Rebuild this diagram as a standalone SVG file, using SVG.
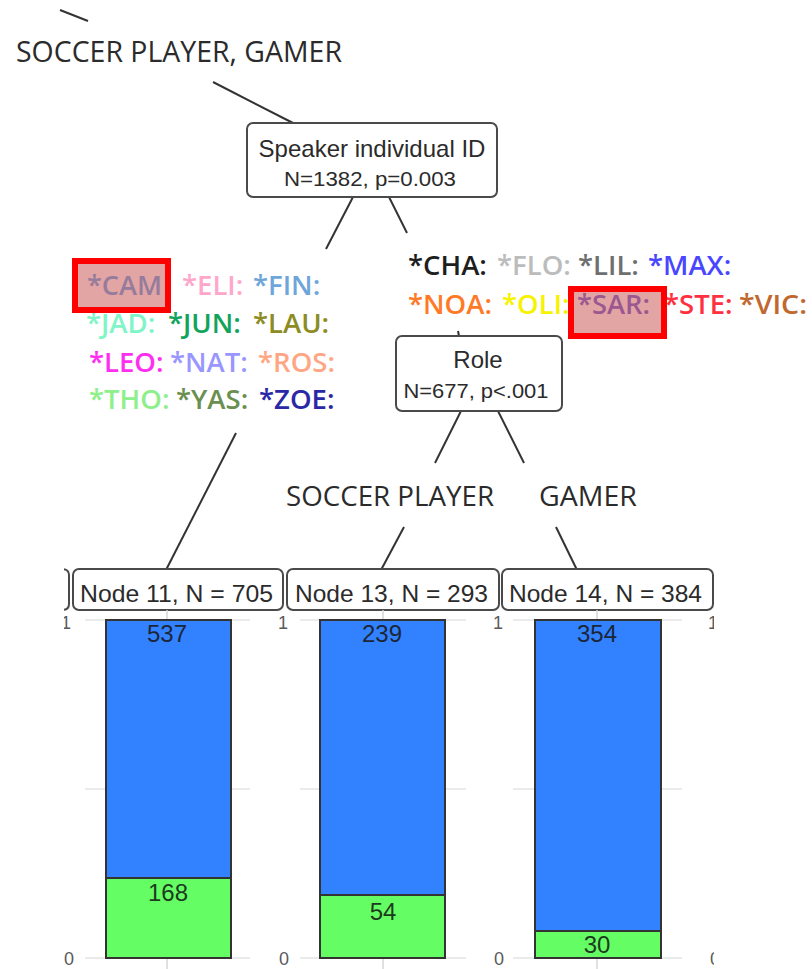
<svg xmlns="http://www.w3.org/2000/svg" width="812" height="969" viewBox="0 0 812 969">
  <style>
    .cal { font-family: "Open Sans", "Liberation Sans", sans-serif; fill: #2b2b2b; }
    .lbl { font-family: "Open Sans", "Liberation Sans", sans-serif; font-size: 27.5px; font-weight: 600; }
    .ar { font-family: "Liberation Sans", Arial, sans-serif; fill: #2b2b2b; }
    .box { fill: #ffffff; stroke: #4a4a4a; stroke-width: 2; }
    .edge { stroke: #333333; stroke-width: 2; fill: none; }
    .grid { stroke: #e4e4e4; stroke-width: 1.5; }
    .tick { stroke: #d6d6d6; stroke-width: 1.5; }
    .blue { fill: #3282ff; stroke: #333333; stroke-width: 2; }
    .green { fill: #64fe64; stroke: #333333; stroke-width: 2; }
    .axis { font-family: "Liberation Sans", Arial, sans-serif; font-size: 18px; fill: #5a5a5a; }
    .num { font-family: "Liberation Sans", Arial, sans-serif; font-size: 24px; text-anchor: middle; }
    .hl { fill: #e3a4a4; }
    .hlframe { fill: none; stroke: #ff0000; stroke-width: 6; }
  </style>
  <defs>
    <clipPath id="plotclip">
      <rect x="64" y="560" width="650" height="409"/>
    </clipPath>
  </defs>

  <!-- connectors -->
  <g id="connectors">
    <line class="edge" x1="60" y1="10" x2="88" y2="21"/>
    <line class="edge" x1="213" y1="82" x2="293" y2="123"/>
    <line class="edge" x1="353" y1="197" x2="326" y2="249"/>
    <line class="edge" x1="389" y1="197" x2="407" y2="233"/>
    <line class="edge" x1="236" y1="433" x2="166" y2="570"/>
    <line class="edge" x1="458" y1="331" x2="459" y2="336"/>
    <line class="edge" x1="461" y1="411" x2="435" y2="463"/>
    <line class="edge" x1="498" y1="411" x2="524" y2="463"/>
    <line class="edge" x1="404" y1="527" x2="381" y2="570"/>
    <line class="edge" x1="556" y1="527" x2="577" y2="570"/>
  </g>

  <!-- edge labels -->
  <g id="edge-labels">
    <text class="cal" x="16" y="62" font-size="28.5" textLength="326" lengthAdjust="spacingAndGlyphs">SOCCER PLAYER, GAMER</text>
    <text class="cal" x="286" y="506" font-size="28" textLength="208" lengthAdjust="spacingAndGlyphs">SOCCER PLAYER</text>
    <text class="cal" x="539" y="506" font-size="28" textLength="98" lengthAdjust="spacingAndGlyphs">GAMER</text>
  </g>

  <!-- inner node: speaker ID -->
  <g id="node-speaker">
    <rect class="box" x="247" y="123" width="250" height="74" rx="6"/>
    <text class="ar" x="372" y="157" font-size="24" text-anchor="middle">Speaker individual ID</text>
    <text class="ar" x="370" y="186" font-size="21" text-anchor="middle" textLength="172" lengthAdjust="spacingAndGlyphs">N=1382, p=0.003</text>
  </g>

  <!-- left split: speaker set -->
  <g id="speakers-left" class="lbl">
    <rect class="hl" x="78" y="264" width="87" height="43"/>
    <text x="87" y="295" fill="#957c9c" textLength="75" lengthAdjust="spacingAndGlyphs">*CAM</text>
    <text x="182" y="295" fill="#ffa6cb">*ELI:</text>
    <text x="253" y="295" fill="#6fa6da">*FIN:</text>
    <text x="86" y="333" fill="#7ff5c8">*JAD:</text>
    <text x="168" y="333" fill="#12a35c">*JUN:</text>
    <text x="253" y="333" fill="#8c8c22">*LAU:</text>
    <text x="89" y="372" fill="#ff2ef0">*LEO:</text>
    <text x="170" y="372" fill="#9a96ff">*NAT:</text>
    <text x="258" y="372" fill="#ffa784">*ROS:</text>
    <text x="89" y="409" fill="#8ef08a">*THO:</text>
    <text x="176" y="409" fill="#6a8f50">*YAS:</text>
    <text x="259" y="409" fill="#2a28a6">*ZOE:</text>
    <rect class="hlframe" x="75" y="261" width="93" height="49"/>
  </g>

  <!-- right split: speaker set -->
  <g id="speakers-right" class="lbl">
    <rect class="hl" x="574" y="292" width="87" height="41"/>
    <text x="408" y="275" fill="#1e1e1e">*CHA:</text>
    <text x="497" y="275" fill="#bcbcbc">*FLO:</text>
    <text x="578" y="275" fill="#6f6f6f">*LIL:</text>
    <text x="648" y="275" fill="#4a46ff">*MAX:</text>
    <text x="408" y="314" fill="#ff7a26">*NOA:</text>
    <text x="502" y="314" fill="#f7f200">*OLI:</text>
    <text x="577" y="314" fill="#9b5890" textLength="73" lengthAdjust="spacingAndGlyphs">*SAR:</text>
    <text x="664" y="314" fill="#ff3040">*STE:</text>
    <text x="739" y="314" fill="#c0682e" textLength="68" lengthAdjust="spacingAndGlyphs">*VIC:</text>
    <rect class="hlframe" x="571" y="289" width="93" height="47"/>
  </g>

  <!-- inner node: role -->
  <g id="node-role">
    <rect class="box" x="396" y="336" width="166" height="75" rx="6"/>
    <text class="ar" x="478" y="368" font-size="24" text-anchor="middle">Role</text>
    <text class="ar" x="476" y="398" font-size="21" text-anchor="middle" textLength="145" lengthAdjust="spacingAndGlyphs">N=677, p&lt;.001</text>
  </g>

  <!-- terminal panels: axes and grid -->
  <g id="axes" clip-path="url(#plotclip)">
    <path d="M62,569 Q69,569 69,575 L69,604 Q69,610 62,610" fill="none" stroke="#4a4a4a" stroke-width="2"/>
    <line class="grid" x1="85" y1="620" x2="250" y2="620"/>
    <line class="grid" x1="85" y1="789" x2="250" y2="789"/>
    <line class="grid" x1="85" y1="958" x2="250" y2="958"/>
    <line class="grid" x1="300" y1="620" x2="466" y2="620"/>
    <line class="grid" x1="300" y1="789" x2="466" y2="789"/>
    <line class="grid" x1="300" y1="958" x2="466" y2="958"/>
    <line class="grid" x1="513" y1="620" x2="682" y2="620"/>
    <line class="grid" x1="513" y1="789" x2="682" y2="789"/>
    <line class="grid" x1="513" y1="958" x2="682" y2="958"/>
    <line class="tick" x1="167" y1="958" x2="167" y2="969"/>
    <line class="tick" x1="383" y1="958" x2="383" y2="969"/>
    <line class="tick" x1="597" y1="958" x2="597" y2="969"/>
    <text class="axis" x="71" y="629" text-anchor="end">1</text>
    <text class="axis" x="288" y="629" text-anchor="end">1</text>
    <text class="axis" x="503" y="629" text-anchor="end">1</text>
    <text class="axis" x="718" y="629" text-anchor="end">1</text>
    <text class="axis" x="74" y="965" text-anchor="end">0</text>
    <text class="axis" x="289" y="965" text-anchor="end">0</text>
    <text class="axis" x="504" y="965" text-anchor="end">0</text>
    <text class="axis" x="720" y="965" text-anchor="end">0</text>
  </g>

  <g id="node-11">
    <rect class="box" x="73" y="569" width="210" height="41" rx="6"/>
    <line class="tick" x1="167" y1="610" x2="167" y2="620"/>
    <text class="ar" x="80" y="602" font-size="24" textLength="193" lengthAdjust="spacingAndGlyphs">Node 11, N = 705</text>
    <rect class="blue" x="106" y="620" width="125" height="258"/>
    <rect class="green" x="106" y="878" width="125" height="80"/>
    <text class="num" x="167" y="642" fill="#1c2638">537</text>
    <text class="num" x="168" y="901" fill="#1e3a1e">168</text>
  </g>

  <g id="node-13">
    <rect class="box" x="287" y="569" width="212" height="41" rx="6"/>
    <line class="tick" x1="383" y1="610" x2="383" y2="620"/>
    <text class="ar" x="295" y="602" font-size="24" textLength="193" lengthAdjust="spacingAndGlyphs">Node 13, N = 293</text>
    <rect class="blue" x="320" y="620" width="125" height="275"/>
    <rect class="green" x="320" y="895" width="125" height="63"/>
    <text class="num" x="382" y="642" fill="#1c2638">239</text>
    <text class="num" x="383" y="920" fill="#1e3a1e">54</text>
  </g>

  <g id="node-14">
    <rect class="box" x="502" y="569" width="211" height="41" rx="6"/>
    <line class="tick" x1="597" y1="610" x2="597" y2="620"/>
    <text class="ar" x="509" y="602" font-size="24" textLength="193" lengthAdjust="spacingAndGlyphs">Node 14, N = 384</text>
    <rect class="blue" x="535" y="620" width="126" height="311"/>
    <rect class="green" x="535" y="931" width="126" height="27"/>
    <text class="num" x="597" y="642" fill="#1c2638">354</text>
    <text class="num" x="597" y="953" fill="#1e3a1e">30</text>
  </g>
</svg>
